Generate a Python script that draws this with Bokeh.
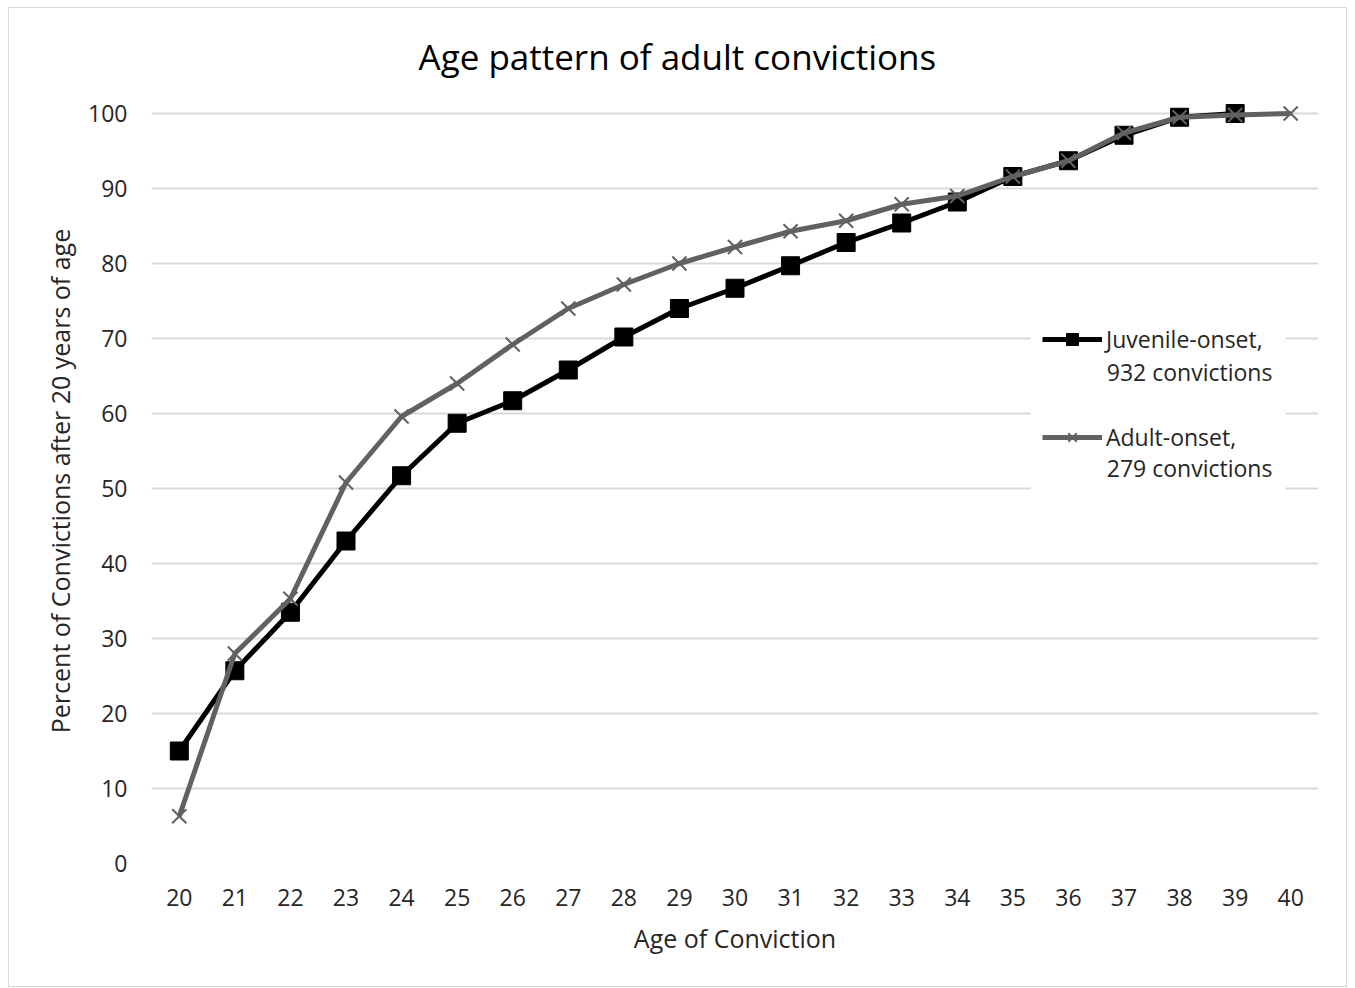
from bokeh.plotting import figure
from bokeh.models import Range1d, FixedTicker, Legend, LegendItem, Label, BoxAnnotation
from bokeh.embed import file_html
from bokeh.resources import INLINE

ages = list(range(20, 41))
juvenile_ages = list(range(20, 40))
juvenile = [15.0, 25.7, 33.5, 43.0, 51.7, 58.7, 61.7, 65.8, 70.2, 74.0,
            76.7, 79.7, 82.8, 85.4, 88.2, 91.6, 93.7, 97.1, 99.5, 100.0]
adult = [6.3, 28.0, 35.3, 50.8, 59.6, 64.0, 69.2, 74.0, 77.2, 80.0,
         82.2, 84.3, 85.7, 87.9, 89.0, 91.6, 93.7, 97.4, 99.5, 99.8, 100.0]
y_ticks = [0, 10, 20, 30, 40, 50, 60, 70, 80, 90, 100]

FONT = "Open Sans"
TXT = "#262626"

p = figure(width=1355, height=988, output_backend="svg", toolbar_location=None,
           x_range=Range1d(19.5, 40.5), y_range=Range1d(0, 102),
           min_border_left=151, min_border_right=37, min_border_top=98, min_border_bottom=125,
           title="Age pattern of adult convictions")
p.styles = {"background-color": "white",
            "box-shadow": "inset 8px 7px 0 0 white, inset -8px -1px 0 0 white, "
                          "inset 0 0 0 0 white, inset 9px 8px 0 0 #d9d9d9, inset -9px -2px 0 0 #d9d9d9"}
p.outline_line_color = None
p.background_fill_color = "white"
p.border_fill_alpha = 0

p.title.align = "left"
p.title.offset = 267
p.title.text_font = FONT
p.title.text_font_size = "35px"
p.title.text_font_style = "normal"
p.title.text_color = "#000000"
p.title.standoff = 38

p.xaxis.ticker = FixedTicker(ticks=ages)
p.yaxis.ticker = FixedTicker(ticks=y_ticks)
for ax in (p.xaxis[0], p.yaxis[0]):
    ax.axis_line_color = None
    ax.major_tick_line_color = None
    ax.minor_tick_line_color = None
    ax.major_label_text_font = FONT
    ax.major_label_text_font_size = "23px"
    ax.major_label_text_color = TXT
    ax.axis_label_text_font = FONT
    ax.axis_label_text_font_size = "25px"
    ax.axis_label_text_font_style = "normal"
    ax.axis_label_text_color = TXT
p.xaxis.axis_label = "Age of Conviction"
p.yaxis.axis_label = "Percent of Convictions after 20 years of age"
p.xaxis.major_label_standoff = 19
p.yaxis.major_label_standoff = 18
p.xaxis.axis_label_standoff = 12
p.yaxis.axis_label_standoff = 8

p.xgrid.grid_line_color = None
p.ygrid.grid_line_color = "#d9d9d9"
p.ygrid.grid_line_width = 2

# white legend background covering gridlines
p.add_layout(BoxAnnotation(left=35.32, right=39.91, bottom=49.5, top=72.4,
                           fill_color="white", fill_alpha=1, line_color=None, level="underlay"))

jl = p.line(juvenile_ages, juvenile, line_color="black", line_width=5)
js = p.scatter(juvenile_ages, juvenile, marker="square", size=18, fill_color="black", line_color="black")
al = p.line(ages, adult, line_color="#616161", line_width=5)
ax_ = p.scatter(ages, adult, marker="x", size=20, line_color="#616161", line_width=2)

legend = Legend(items=[LegendItem(label="Juvenile-onset,", renderers=[jl, js]),
                       LegendItem(label="Adult-onset,", renderers=[al, ax_])],
                location=(891, 410), orientation="vertical",
                glyph_width=60, glyph_height=30, spacing=66, padding=0, margin=0,
                label_standoff=4, label_text_font=FONT, label_text_font_size="23px",
                label_text_color=TXT, background_fill_alpha=0, border_line_alpha=0,
                label_height=30)
p.add_layout(legend, "center")

for yv, txt in [(65.6, "932 convictions"), (52.8, "279 convictions")]:
    p.add_layout(Label(x=36.69, y=yv, text=txt, text_font=FONT, text_font_size="23px",
                       text_color=TXT, text_baseline="middle", text_align="left"))

open("out.html", "w").write(file_html(p, INLINE))
